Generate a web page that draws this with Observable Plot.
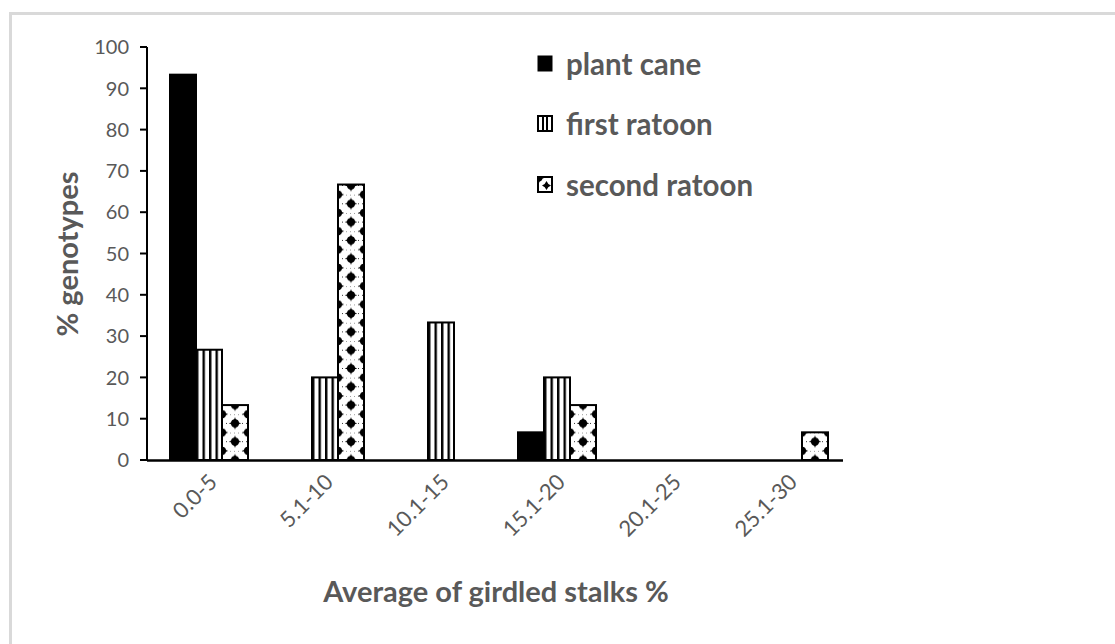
<!DOCTYPE html>
<html>
<head>
<meta charset="utf-8">
<script src="https://cdn.jsdelivr.net/npm/d3@7"></script>
<script src="https://cdn.jsdelivr.net/npm/@observablehq/plot@0.6"></script>
<style>
  html, body { margin: 0; padding: 0; background: #fff; }
  #wrap { position: relative; width: 1115px; height: 644px; overflow: hidden; font-family: Lato, "Open Sans", sans-serif; }
  #frame { position: absolute; left: 9px; top: 12px; width: 1200px; height: 700px; border-left: 3px solid #d9d9d9; border-top: 3px solid #d9d9d9; box-sizing: border-box; }
  #chart { position: absolute; left: 0; top: 0; }
  .ttl { position: absolute; color: #595959; font-weight: bold; white-space: nowrap; }
  #legend { position: absolute; left: 537px; top: 33px; }
  .lg { display: flex; align-items: center; height: 60.5px; color: #595959; font-weight: bold; font-size: 29.5px; }
  .lg svg { margin-right: 13px; }
</style>
</head>
<body>
<div id="wrap">
  <div id="frame"></div>
  <div id="chart"></div>
  <div class="ttl" id="ytitle" style="left:66px; top:254px; font-size:29px; transform: translate(-50%,-50%) rotate(-90deg);">% genotypes</div>
  <div class="ttl" id="xtitle" style="left:496px; top:590px; font-size:29px; transform: translate(-50%,-50%);">Average of girdled stalks %</div>
  <div id="legend"></div>
</div>
<script>
const categories = ["0.0-5", "5.1-10", "10.1-15", "15.1-20", "20.1-25", "25.1-30"];
const series = ["plant cane", "first ratoon", "second ratoon"];
const plantCane = [93.3, 0, 0, 6.7, 0, 0];
const firstRatoon = [26.7, 20, 33.3, 20, 0, 0];
const secondRatoon = [13.3, 66.7, 0, 13.3, 0, 6.7];
const yTicks = [0, 10, 20, 30, 40, 50, 60, 70, 80, 90, 100];

const fills = {"plant cane": "#000", "first ratoon": "url(#stripes)", "second ratoon": "url(#stars)"};

const data = [];
categories.forEach((c, i) => {
  data.push({cat: c, series: "plant cane", value: plantCane[i]});
  data.push({cat: c, series: "first ratoon", value: firstRatoon[i]});
  data.push({cat: c, series: "second ratoon", value: secondRatoon[i]});
});
const shown = data.filter(d => d.value > 0);

const plot = Plot.plot({
  width: 1115,
  height: 644,
  marginLeft: 147,
  marginRight: 272,
  marginTop: 47,
  marginBottom: 184,
  style: {fontFamily: "Lato, 'Open Sans', sans-serif", background: "transparent", overflow: "visible"},
  fx: {domain: categories, padding: 0, axis: null},
  x: {domain: series, paddingInner: 0, paddingOuter: 0.73, align: 0.6, axis: null},
  y: {domain: [0, 100], axis: null},
  marks: [
    Plot.barY(shown, {fx: "cat", x: "series", y: "value", fill: d => fills[d.series], stroke: "#000", strokeWidth: 2}),
    Plot.ruleY([0], {stroke: "#000", strokeWidth: 2.5}),
    Plot.text(categories, {fx: d => d, text: d => d, frameAnchor: "bottom", dy: 23, dx: 13, rotate: -45, textAnchor: "end", fontSize: 22, fill: "#595959"})
  ]
});
document.getElementById("chart").appendChild(plot);

const ys = plot.scale("y");
const xs = plot.scale("x");
const axisG = d3.select(plot).append("g");
const x0 = 147;
axisG.append("line").attr("x1", x0).attr("x2", x0).attr("y1", ys.apply(0)).attr("y2", ys.apply(100)).attr("stroke", "#000").attr("stroke-width", 2);
yTicks.forEach(t => {
  axisG.append("line").attr("x1", x0 - 7).attr("x2", x0).attr("y1", ys.apply(t)).attr("y2", ys.apply(t)).attr("stroke", "#000").attr("stroke-width", 2);
  axisG.append("text").attr("x", x0 - 18).attr("y", ys.apply(t)).attr("dy", "0.36em").attr("text-anchor", "end")
    .attr("fill", "#595959").attr("font-size", 20).attr("font-family", "Lato, 'Open Sans', sans-serif").text(t);
});

const bw = xs.bandwidth;
const base = ys.apply(0);
const defsSvg = d3.select(plot).insert("defs", ":first-child");
const sx = xs.apply("first ratoon");
const stripe = defsSvg.append("pattern").attr("id", "stripes").attr("patternUnits", "userSpaceOnUse")
  .attr("x", sx).attr("y", 0).attr("width", bw / 4).attr("height", 10);
stripe.append("rect").attr("width", bw / 4).attr("height", 10).attr("fill", "#fff");
stripe.append("rect").attr("x", 0).attr("width", 2.4).attr("height", 10).attr("fill", "#000");

const tx = xs.apply("second ratoon");
const ph = 18.3;
const star = defsSvg.append("pattern").attr("id", "stars").attr("patternUnits", "userSpaceOnUse")
  .attr("x", tx).attr("y", base - ph / 2).attr("width", bw).attr("height", ph);
star.append("rect").attr("width", bw).attr("height", ph).attr("fill", "#fff");
star.append("line").attr("x1", 0).attr("x2", bw).attr("y1", 0).attr("y2", 0).attr("stroke", "#000").attr("stroke-width", 0.8).attr("stroke-dasharray", "1 3");
star.append("line").attr("x1", 0).attr("x2", bw).attr("y1", ph/2).attr("y2", ph/2).attr("stroke", "#000").attr("stroke-width", 0.8).attr("stroke-dasharray", "1 3");
const starPath = (cx, cy, r) => `M${cx},${cy-r} Q${cx+1.2},${cy-1.2} ${cx+r},${cy} Q${cx+1.2},${cy+1.2} ${cx},${cy+r} Q${cx-1.2},${cy+1.2} ${cx-r},${cy} Q${cx-1.2},${cy-1.2} ${cx},${cy-r}Z`;
[[bw/2, ph/2], [0, 0], [bw, 0], [0, ph], [bw, ph]].forEach(([cx, cy]) => {
  star.append("path").attr("d", starPath(cx, cy, 6.2)).attr("fill", "#000");
  star.append("circle").attr("cx", cx).attr("cy", cy).attr("r", 4).attr("fill", "#000");
});

const legend = document.getElementById("legend");
series.forEach(s => {
  const row = document.createElement("div");
  row.className = "lg";
  const sw = d3.create("svg").attr("width", 16).attr("height", 17);
  if (s === "plant cane") {
    sw.append("rect").attr("x", 0.5).attr("y", 0.5).attr("width", 15).attr("height", 16).attr("fill", "#000");
  } else if (s === "first ratoon") {
    sw.append("rect").attr("x", 1).attr("y", 1).attr("width", 14).attr("height", 15).attr("fill", "#fff").attr("stroke", "#000").attr("stroke-width", 2);
    sw.append("rect").attr("x", 5).attr("y", 1).attr("width", 2).attr("height", 15).attr("fill", "#000");
    sw.append("rect").attr("x", 9).attr("y", 1).attr("width", 2).attr("height", 15).attr("fill", "#000");
  } else {
    sw.append("rect").attr("x", 1).attr("y", 1).attr("width", 14).attr("height", 15).attr("fill", "#fff").attr("stroke", "#000").attr("stroke-width", 2);
    sw.append("path").attr("d", starPath(2, 2, 5)).attr("fill", "#000");
    sw.append("circle").attr("cx", 2).attr("cy", 2).attr("r", 3.4).attr("fill", "#000");
    sw.append("path").attr("d", starPath(9.5, 9.5, 4.5)).attr("fill", "#000");
  }
  row.appendChild(sw.node());
  const t = document.createElement("span");
  t.textContent = s;
  row.appendChild(t);
  legend.appendChild(row);
});
</script>
</body>
</html>
